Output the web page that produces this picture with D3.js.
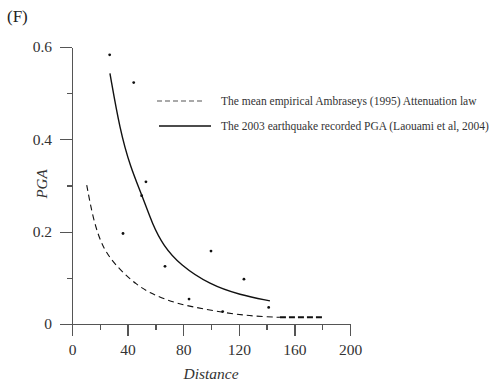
<!DOCTYPE html>
<html>
<head>
<meta charset="UTF-8">
<title>PGA vs Distance</title>
<script src="https://cdn.jsdelivr.net/npm/d3@7"></script>
<style>
  body { margin: 0; background: #fff; }
  text { font-family: "Liberation Serif", "DejaVu Serif", serif; }
  .axis path, .axis line { stroke: #555; stroke-width: 1.3px; shape-rendering: crispEdges; }
  .axis text { fill: #333; font-size: 15.5px; }
  .curve { fill: none; stroke: #111; }
</style>
</head>
<body>
<div id="chart"></div>
<script>
// recorded PGA (dots)
var recDist = [27.1, 44.4, 53.2, 50.1, 36.7, 66.9, 84.2, 100, 108.4, 123.7, 141.5];
var recPga  = [0.583, 0.523, 0.308, 0.278, 0.196, 0.125, 0.054, 0.158, 0.027, 0.097, 0.036];

// fitted curve to the 2003 records (solid)
var fitDist = [27.3, 34.5, 42, 50.6, 58, 65.7, 77.7, 99.3, 120.9, 142.4];
var fitPga  = [0.543, 0.420, 0.340, 0.277, 0.215, 0.170, 0.128, 0.085, 0.063, 0.050];

// mean Ambraseys (1995) law (dashed)
var ambDist = [10.6, 15.3, 22.5, 34.5, 46.5, 56.1, 68.1, 80.1, 104.1, 128.1, 149.6];
var ambPga  = [0.301, 0.225, 0.160, 0.117, 0.085, 0.067, 0.052, 0.041, 0.027, 0.017, 0.0145];
var tailDist = [149.6, 180.8];
var tailPga  = [0.0145, 0.0145];

var xTicks = [0, 40, 80, 120, 160, 200];
var xMinor = [20, 60, 100, 140, 180];
var yTicks = [0, 0.2, 0.4, 0.6];
var yMinor = [0.1, 0.3, 0.5];

var legendLabels = [
  "The mean empirical Ambraseys (1995) Attenuation law",
  "The 2003 earthquake recorded PGA (Laouami et al, 2004)"
];

var serif = '"Liberation Serif", "DejaVu Serif", serif';
var width = 499, height = 389;
var svg = d3.select("#chart").append("svg")
  .attr("width", width).attr("height", height);

var x = d3.scaleLinear().domain([0, 200]).range([72, 350]);
var y = d3.scaleLinear().domain([0, 0.6]).range([324, 47]);

/* axes */
svg.append("g").attr("class", "axis")
  .attr("transform", "translate(0,324)")
  .call(d3.axisBottom(x).tickValues(xMinor).tickSize(6).tickSizeOuter(0).tickFormat(""));
svg.append("g").attr("class", "axis")
  .attr("transform", "translate(0,324)")
  .call(d3.axisBottom(x).tickValues(xTicks).tickSize(12).tickSizeOuter(0).tickPadding(8)
    .tickFormat(d3.format("d")))
  .attr("font-family", serif);
svg.append("g").attr("class", "axis")
  .attr("transform", "translate(72,0)")
  .call(d3.axisLeft(y).tickValues(yMinor).tickSize(5).tickSizeOuter(0).tickFormat(""));
svg.append("g").attr("class", "axis")
  .attr("transform", "translate(72,0)")
  .call(d3.axisLeft(y).tickValues(yTicks).tickSize(12).tickSizeOuter(0).tickPadding(8)
    .tickFormat(function(d) { return d === 0 ? "0" : d3.format(".1f")(d); }))
  .attr("font-family", serif);

/* curves */
var line = d3.line()
  .x(function(d) { return x(d[0]); })
  .y(function(d) { return y(d[1]); })
  .curve(d3.curveBasis);

svg.append("path").attr("class", "curve")
  .attr("d", line(d3.zip(ambDist, ambPga)))
  .attr("stroke-width", 1.1)
  .attr("stroke-dasharray", "6,4");
svg.append("path").attr("class", "curve")
  .attr("d", line(d3.zip(tailDist, tailPga)))
  .attr("stroke-width", 2)
  .attr("stroke-dasharray", "6,3");
svg.append("path").attr("class", "curve")
  .attr("d", line(d3.zip(fitDist, fitPga)))
  .attr("stroke-width", 1.4);

/* recorded points */
svg.append("g").selectAll("circle")
  .data(d3.zip(recDist, recPga)).enter()
  .append("circle")
  .attr("cx", function(d) { return x(d[0]); })
  .attr("cy", function(d) { return y(d[1]); })
  .attr("r", 1.4)
  .attr("fill", "#111");

/* legend */
var legend = svg.append("g");
legend.append("line")
  .attr("x1", 157).attr("x2", 204).attr("y1", 101).attr("y2", 101)
  .attr("stroke", "#555").attr("stroke-width", 1.2).attr("stroke-dasharray", "5,3");
legend.append("line")
  .attr("x1", 159).attr("x2", 211).attr("y1", 126).attr("y2", 126)
  .attr("stroke", "#111").attr("stroke-width", 1.3);
legend.selectAll("text")
  .data(legendLabels).enter()
  .append("text")
  .attr("x", 221)
  .attr("y", function(d, i) { return 105 + i * 25; })
  .attr("fill", "#333")
  .style("font-family", serif)
  .style("font-size", "11.5px")
  .text(function(d) { return d; });

/* labels */
svg.append("text")
  .attr("x", 7).attr("y", 22)
  .attr("fill", "#222")
  .style("font-family", serif)
  .style("font-size", "17px")
  .text("(F)");

svg.append("text")
  .attr("transform", "translate(47,184) rotate(-90)")
  .attr("text-anchor", "middle")
  .attr("fill", "#333")
  .style("font-family", serif)
  .style("font-size", "15px")
  .style("font-style", "italic")
  .text("PGA");

svg.append("text")
  .attr("x", 211).attr("y", 379)
  .attr("text-anchor", "middle")
  .attr("fill", "#333")
  .style("font-family", serif)
  .style("font-size", "15.5px")
  .style("font-style", "italic")
  .text("Distance");
</script>
</body>
</html>
